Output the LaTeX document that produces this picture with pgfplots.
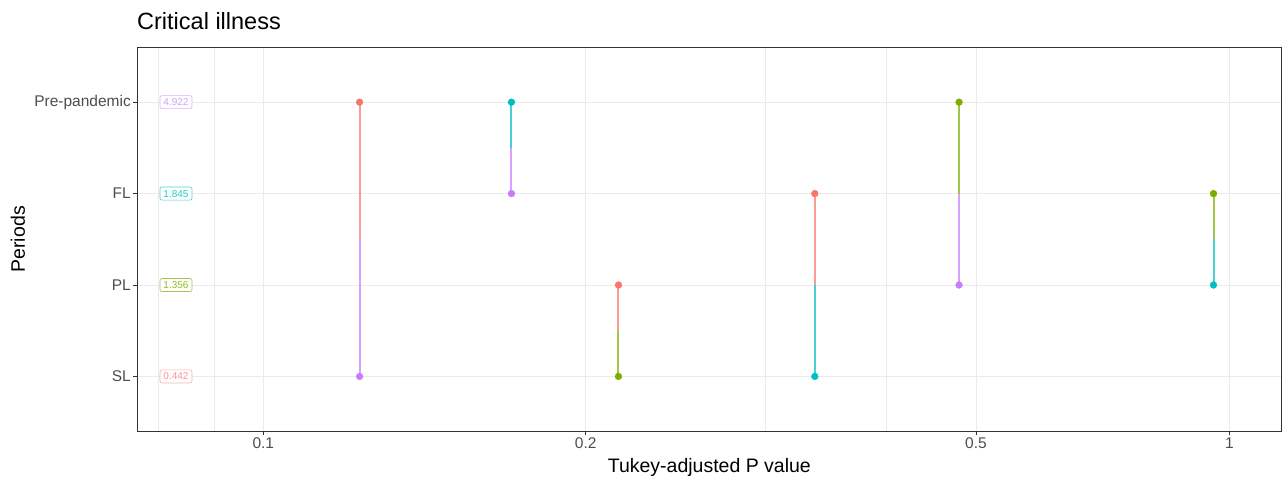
\documentclass[border=0pt]{standalone}
\usepackage{fontspec}
\setmainfont{Liberation Sans}
\usepackage{pgfplots}
\usepackage{pgfplotstable}
\pgfplotsset{compat=1.18}
\definecolor{cR}{HTML}{F8766D}
\definecolor{cG}{HTML}{7CAE00}
\definecolor{cC}{HTML}{00BFC4}
\definecolor{cP}{HTML}{C77CFF}
\definecolor{gridc}{HTML}{EBEBEB}
\definecolor{borderc}{HTML}{333333}
\definecolor{tickc}{HTML}{4D4D4D}
% position of a P value on the reference's x axis (piecewise in log10 p, through the breaks 0.1, 0.2, 0.5, 1)
\pgfmathdeclarefunction{ptx}{1}{%
  \begingroup
  \pgfmathparse{ln(#1)*0.4342945}\let\myPu\pgfmathresult
  \pgfmathparse{(\myPu<-0.69897) ? (263.3+(\myPu+1)*1071.0) : ((\myPu<-0.30103) ? (585.7+(\myPu+0.69897)*980.8) : (976+(\myPu+0.30103)*841.4))}%
  \pgfmathsmuggle\pgfmathresult
  \endgroup
}
% Tukey-adjusted P values of the six pairwise comparisons
% p = P value, y = period (1 SL, 2 PL, 3 FL, 4 Pre-pandemic)
\pgfplotstableread{
p y
0.1230 4
0.2160 2
0.3425 3
}\ptsR
\pgfplotstableread{
p y
0.1230 1
0.1705 3
0.4805 2
}\ptsP
\pgfplotstableread{
p y
0.1705 4
0.3425 1
0.9577 2
}\ptsC
\pgfplotstableread{
p y
0.2160 1
0.4805 4
0.9577 3
}\ptsG
\pgfplotsset{table/ptab/.style={x expr={ptx(\thisrow{p})}, y=y}}
\begin{document}
\begin{tikzpicture}[x=1pt,y=1pt]
\useasboundingbox (0,0) rectangle (1285,477);
\begin{axis}[
  at={(137,50)}, anchor=south west, scale only axis,
  width=1144.7pt, height=384pt,
  xmin=137, xmax=1281.7, ymin=0.4, ymax=4.6,
  enlargelimits=false,
  axis line style={borderc, line width=0.9pt},
  xtick={263.3,585.7,976,1229.3},
  xticklabels={0.1,0.2,0.5,1},
  ytick={1,2,3,4},
  yticklabels={SL,PL,FL,Pre-pandemic},
  tick align=outside,
  major tick length=4pt,
  tick style={borderc, line width=0.9pt},
  xtick pos=bottom, ytick pos=left,
  grid=major,
  major grid style={gridc, line width=1pt},
  extra x ticks={158.7,214.7,765.7,886.7},
  extra x tick labels={},
  extra x tick style={grid=major, major tick length=0pt, major grid style={gridc, line width=0.55pt}},
  tick label style={font=\fontsize{15.5}{18}\selectfont, text=tickc},
  xticklabel style={inner sep=2pt},
  yticklabel style={inner sep=2pt},
  title={Critical illness},
  title style={at={(axis description cs:0,1.031)}, anchor=base west, font=\fontsize{23.5}{28}\selectfont, inner sep=0pt},
  xlabel={Tukey-adjusted P value},
  xlabel style={at={(axis description cs:0.5,-0.1068)}, anchor=base, font=\fontsize{19.5}{23}\selectfont, inner sep=0pt},
  ylabel={Periods},
  ylabel style={at={(axis description cs:-0.104,0.5)}, anchor=center, font=\fontsize{19.5}{23}\selectfont, inner sep=0pt},
  clip=false,
]
% segments: upper half in colour of upper point, lower half in colour of lower point
\tikzset{seg/.style={line width=2pt, color=#1!72!white}}
\addplot[seg=cR] table[ptab, row sep=\\] {p y\\ 0.1230 4\\ 0.1230 2.5\\};
\addplot[seg=cP] table[ptab, row sep=\\] {p y\\ 0.1230 2.5\\ 0.1230 1\\};
\addplot[seg=cC] table[ptab, row sep=\\] {p y\\ 0.1705 4\\ 0.1705 3.5\\};
\addplot[seg=cP] table[ptab, row sep=\\] {p y\\ 0.1705 3.5\\ 0.1705 3\\};
\addplot[seg=cR] table[ptab, row sep=\\] {p y\\ 0.2160 2\\ 0.2160 1.5\\};
\addplot[seg=cG] table[ptab, row sep=\\] {p y\\ 0.2160 1.5\\ 0.2160 1\\};
\addplot[seg=cR] table[ptab, row sep=\\] {p y\\ 0.3425 3\\ 0.3425 2\\};
\addplot[seg=cC] table[ptab, row sep=\\] {p y\\ 0.3425 2\\ 0.3425 1\\};
\addplot[seg=cG] table[ptab, row sep=\\] {p y\\ 0.4805 4\\ 0.4805 3\\};
\addplot[seg=cP] table[ptab, row sep=\\] {p y\\ 0.4805 3\\ 0.4805 2\\};
\addplot[seg=cG] table[ptab, row sep=\\] {p y\\ 0.9577 3\\ 0.9577 2.5\\};
\addplot[seg=cC] table[ptab, row sep=\\] {p y\\ 0.9577 2.5\\ 0.9577 2\\};
% points
\addplot[only marks, mark=*, mark size=3.4pt, cR, mark options={draw=cR, fill=cR}] table[ptab] {\ptsR};
\addplot[only marks, mark=*, mark size=3.4pt, cP, mark options={draw=cP, fill=cP}] table[ptab] {\ptsP};
\addplot[only marks, mark=*, mark size=3.4pt, cC, mark options={draw=cC, fill=cC}] table[ptab] {\ptsC};
\addplot[only marks, mark=*, mark size=3.4pt, cG, mark options={draw=cG, fill=cG}] table[ptab] {\ptsG};
% panel border on top of the grid
\draw[borderc, line width=0.9pt] (rel axis cs:0,0) rectangle (rel axis cs:1,1);
% mean labels
\tikzset{lbl/.style={fill=white, rounded corners=2pt, line width=0.6pt, inner xsep=3.5pt, inner ysep=3pt, font=\fontsize{10}{12}\selectfont}}
\node[lbl, draw=cP!60!white, text=cP!75!white] at (axis cs:176,4) {4.922};
\node[lbl, draw=cC!70!white, text=cC!85!white] at (axis cs:176,3) {1.845};
\node[lbl, draw=cG!70!white, text=cG!85!white] at (axis cs:176,2) {1.356};
\node[lbl, draw=cR!60!white, text=cR!75!white] at (axis cs:176,1) {0.442};
\end{axis}
\end{tikzpicture}
\end{document}
